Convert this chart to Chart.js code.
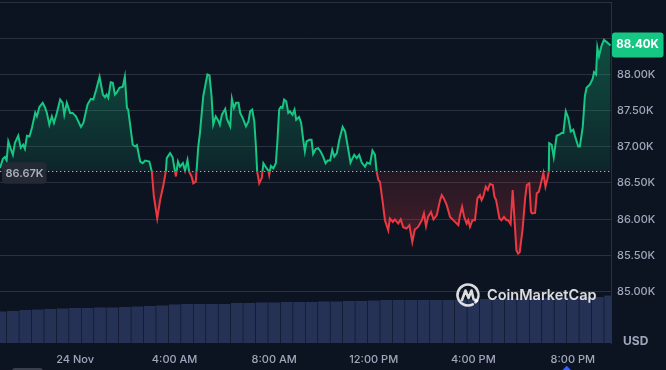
<!DOCTYPE html>
<html><head><meta charset="utf-8">
<script src="https://cdn.jsdelivr.net/npm/chart.js@4.4.1/dist/chart.umd.min.js"></script>
<style>
html,body{margin:0;padding:0;background:#0d1421;}
#wrap{position:relative;width:666px;height:370px;}
</style></head><body>
<div id="wrap"><canvas id="chart-1"></canvas></div>
<script>
// minutes from 24 Nov 00:00 (negative = evening of 23 Nov)
const minutes=[
-181,-174,-169,-165,-161,-157,-150,-145,-137,-131,
-125,-121,-116,-110,-104,-96,-92,-86,-78,-72,
-68,-62,-56,-51,-44,-36,-30,-26,-20,-12,
-6,2,14,20,30,38,44,51,59,67,
72,76,80,86,91,96,100,107,115,120,
125,128,139,145,149,157,163,169,179,185,
190,198,205,213,219,221,229,235,241,243,
248,253,260,265,271,275,281,285,291,297,
301,309,319,324,329,333,339,345,349,354,
362,366,374,378,383,388,394,398,404,412,
418,422,427,432,436,439,444,450,454,460,
466,468,472,478,484,488,492,496,500,504,
509,514,518,524,529,533,540,545,550,554,
558,565,570,574,580,586,592,598,604,609,
615,620,625,631,637,645,651,656,664,669,
673,679,685,691,699,704,711,717,723,727,
731,735,742,747,755,759,766,771,779,785,
791,799,806,813,819,827,836,841,846,851,
858,864,872,880,884,889,896,904,916,924,
928,933,938,944,948,952,958,964,970,976,
980,984,990,995,1000,1007,1011,1015,1023,1028,
1034,1040,1044,1050,1055,1059,1064,1068,1072,1079,
1085,1089,1095,1099,1102,1109,1113,1118,1122,1129,
1134,1139,1142,1143,1149,1154,1161,1167,1173,1177,
1183,1189,1195,1201,1205,1213,1217,1224,1229,1233,
1241,1248,1251,1256,1259,1263,1269,1275,1281,1291];
const prices=[
86708,86833,86861,86810,87074,87004,86889,87056,87153,86986,
87028,86972,87153,87143,87264,87472,87421,87551,87607,87537,
87468,87306,87421,87329,87468,87653,87607,87444,87607,87468,
87468,87421,87274,87329,87583,87662,87653,87792,87968,87722,
87685,87722,87676,87893,87885,87722,87746,87815,87829,87968,
87537,87514,87028,87004,87024,86796,86774,86810,86796,86657,
86310,86010,86264,86472,86667,86843,86913,86857,86657,86590,
86796,86726,86774,86671,86819,86657,86587,86496,86518,87004,
87190,87699,88000,87986,87699,87306,87421,87365,87306,87444,
87524,87385,87282,87662,87537,87607,87607,87468,87399,87282,
87351,87490,87514,87351,87004,86657,86496,86565,86774,86718,
86671,86611,86736,86704,86774,87097,87514,87551,87537,87653,
87629,87468,87490,87444,87514,87375,87412,87329,87097,86935,
87074,87097,87097,86903,86968,86982,86935,86865,86774,86810,
86810,86958,86865,86913,87097,87274,87212,87051,86782,86843,
86889,86843,86889,86782,86726,86782,86764,86949,86889,86657,
86542,86518,86218,85986,85847,86010,85963,85996,85940,85996,
85889,85871,85917,85685,85857,85893,85986,86079,85903,86032,
86101,85996,86056,86264,86333,86287,86194,86032,85963,85917,
86056,86171,86032,85940,85986,85893,85986,85986,86287,86333,
86264,86310,86449,86403,86486,86472,86310,86264,86010,85986,
86032,85986,85986,85931,86403,86032,85569,85524,85546,85871,
86287,86472,86496,86101,86079,86087,86357,86379,86472,86635,
86449,86565,86657,87051,87028,86857,87153,87167,87190,87190,
87490,87399,87212,87236,87153,87004,87004,87282,87699,87815,
87861,87940,88032,88000,88371,88254,88393,88476,88449,88400];
// volume (bn USD), half-hour bars
const volMinutes=[-180,-150,-120,-90,-60,-30,0,30,60,90,120,150,180,210,240,270,300,330,360,390,420,450,480,510,540,570,600,630,660,690,720,750,780,810,840,870,900,930,960,990,1020,1050,1080,1110,1140,1170,1200,1230,1260,1290];
const volumes=[46.2,46.9,48.4,49.1,49.9,50.6,51.3,51.3,52.1,52.1,52.8,53.5,54.3,55.0,56.5,57.2,57.2,57.2,57.2,58.7,58.7,59.4,59.4,60.1,60.1,60.1,60.9,60.9,61.6,61.6,62.3,63.1,63.1,63.1,63.1,63.1,63.1,63.8,63.8,64.5,64.5,65.3,65.3,66.0,66.0,66.7,66.7,67.4,67.4,69.6];
const refPrice=86670;
const xTicks=[0,240,480,720,960,1200];
const xTickLabels=['24 Nov','4:00 AM','8:00 AM','12:00 PM','4:00 PM','8:00 PM'];
const yGrid=[85000,85500,86000,86500,87000,87500,88000,88500,89000];
const yLabelled=[85000,85500,86000,86500,87000,87500,88000];

const UP='#16c784',DOWN='#ea3943',TXT='#a1a7bb',GRID='rgba(255,255,255,.12)';
const fmtK=v=>(v/1000).toFixed(2)+'K';

const splitLine=c=>{
  const ch=c.chart,a=ch.chartArea;
  if(!a) return UP;
  const py=ch.scales.y.getPixelForValue(refPrice);
  const t=Math.min(1,Math.max(0,(py-a.top)/(a.bottom-a.top)));
  const g=ch.ctx.createLinearGradient(0,a.top,0,a.bottom);
  g.addColorStop(0,UP);g.addColorStop(t,UP);g.addColorStop(t,DOWN);g.addColorStop(1,DOWN);
  return g;
};
const splitFill=c=>{
  const ch=c.chart,a=ch.chartArea;
  if(!a) return {target:{value:refPrice},above:'rgba(22,199,132,.15)',below:'rgba(234,57,67,.15)'};
  const py=ch.scales.y.getPixelForValue(refPrice);
  const gu=ch.ctx.createLinearGradient(0,a.top+30,0,py);
  gu.addColorStop(0,'rgba(22,199,132,.34)');gu.addColorStop(1,'rgba(22,199,132,.1)');
  const gd=ch.ctx.createLinearGradient(0,py,0,py+90);
  gd.addColorStop(0,'rgba(234,57,67,.1)');gd.addColorStop(1,'rgba(234,57,67,.3)');
  return {target:{value:refPrice},above:gu,below:gd};
};
const noPad=s=>{s.paddingTop=0;s.paddingBottom=0;s.paddingLeft=0;s.paddingRight=0;};

const overlay={
  id:'overlay',
  beforeDatasetsDraw(chart){
    const {ctx,chartArea:a,scales:{y}}=chart;
    const py=Math.round(y.getPixelForValue(refPrice))+.5;
    ctx.save();
    ctx.strokeStyle='rgba(215,220,232,.8)';ctx.lineWidth=1;ctx.setLineDash([1.3,2.7]);
    ctx.beginPath();ctx.moveTo(a.left,py);ctx.lineTo(a.right,py);ctx.stroke();
    ctx.restore();
  },
  afterDatasetsDraw(chart){
    const {ctx,chartArea:a,scales:{y}}=chart;
    ctx.save();
    // watermark
    const cx=468,cy=295;
    ctx.strokeStyle='rgba(255,255,255,.85)';ctx.lineWidth=2.6;ctx.lineJoin='round';ctx.lineCap='round';
    ctx.beginPath();ctx.arc(cx,cy,10.5,0.35*Math.PI,2.25*Math.PI);ctx.stroke();
    ctx.beginPath();ctx.moveTo(cx-6,cy+5);ctx.lineTo(cx-2.5,cy-4.5);ctx.lineTo(cx+0.5,cy+3);ctx.lineTo(cx+3.5,cy-4.5);ctx.lineTo(cx+5.5,cy+4);ctx.lineTo(cx+9,cy+6);ctx.stroke();
    ctx.fillStyle='rgba(255,255,255,.85)';ctx.font='600 14.5px Inter';ctx.textBaseline='middle';ctx.textAlign='left';
    ctx.fillText('CoinMarketCap',487,cy+1);
    // reference price badge (left)
    const py=y.getPixelForValue(refPrice);
    ctx.fillStyle='rgba(38,42,54,.95)';
    ctx.beginPath();ctx.roundRect(2,py-8.5,44.5,21.5,4);ctx.fill();
    ctx.fillStyle='#aab0bf';ctx.font='600 11px Inter';ctx.textAlign='center';
    ctx.fillText(fmtK(refPrice),24.5,py+2.5);
    // last price badge (right)
    const last=prices[prices.length-1],ly=y.getPixelForValue(last);
    ctx.fillStyle=UP;
    ctx.beginPath();ctx.roundRect(a.right+1,ly-13,51.5,25,3);ctx.fill();
    ctx.fillStyle='#fff';ctx.font='700 11.5px Inter';
    ctx.fillText(fmtK(last),a.right+26.5,ly-0.5);
    // currency
    ctx.fillStyle=TXT;ctx.font='700 12px Inter';ctx.textAlign='left';
    ctx.fillText('USD',623,341);
    // bottom markers
    ctx.fillStyle='#3a3f4e';ctx.beginPath();ctx.roundRect(12,368,31,6,3);ctx.fill();
    ctx.fillStyle='#3861fb';ctx.beginPath();ctx.moveTo(562.5,370);ctx.lineTo(566.7,365.8);ctx.lineTo(570.9,370);ctx.fill();
    ctx.restore();
  }
};

document.addEventListener('DOMContentLoaded',()=>{
  const el=document.getElementById('chart-1');
  if(!el||!window.Chart) return;
  Chart.defaults.font.family='Inter';
  const data={
    datasets:[
      {type:'line',label:'Price',data:minutes.map((m,i)=>({x:m,y:prices[i]})),yAxisID:'y',
       borderColor:splitLine,borderWidth:2,pointRadius:0,tension:0,fill:splitFill,order:0},
      {type:'bar',label:'Volume',data:volMinutes.map((m,i)=>({x:m,y:volumes[i]})),yAxisID:'yv',
       backgroundColor:'#263156',barPercentage:1,categoryPercentage:.95,order:1}
    ]
  };
  const options={
    responsive:true,
    maintainAspectRatio:false,
    animation:false,
    layout:{padding:{top:2,left:0,right:0,bottom:0}},
    plugins:{legend:{display:false},tooltip:{enabled:false}},
    scales:{
      x:{type:'linear',min:-181,max:1292,offset:false,
        grid:{display:false,drawTicks:false,offset:false},border:{display:false},
        afterBuildTicks:s=>{s.ticks=xTicks.map(v=>({value:v}));},
        afterFit:s=>{s.height=27;noPad(s);},
        ticks:{color:TXT,padding:10,maxRotation:0,autoSkip:false,font:{size:11,weight:'500'},
          callback:v=>xTickLabels[xTicks.indexOf(v)]}},
      y:{position:'right',min:84290,max:89000,
        grid:{color:GRID,drawTicks:false},border:{display:true,color:GRID},
        afterBuildTicks:s=>{s.ticks=yGrid.map(v=>({value:v}));},
        afterFit:s=>{s.width=55;noPad(s);},
        ticks:{color:TXT,padding:6,font:{size:11,weight:'500'},
          callback:v=>yLabelled.includes(v)?fmtK(v):''}},
      yv:{display:false,min:0,max:500}
    }
  };
  new Chart(el.getContext('2d'),{data,options,plugins:[overlay]});
});
</script>
</body></html>
